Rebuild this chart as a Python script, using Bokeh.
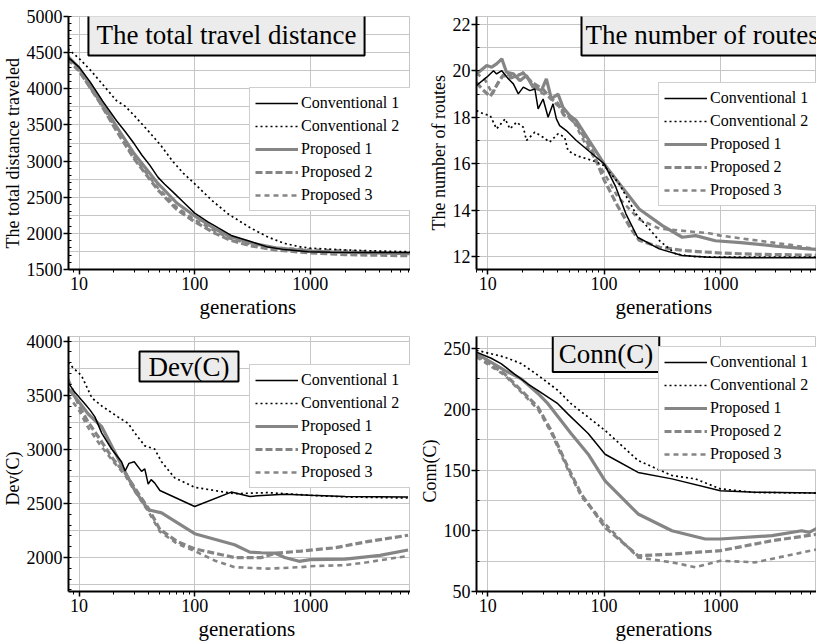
from bokeh.plotting import figure
from bokeh.models import Range1d, FixedTicker, PrintfTickFormatter, Legend, LegendItem, Label, Title
from bokeh.layouts import column, row
from bokeh.embed import file_html
from bokeh.resources import INLINE

FONT = "Liberation Serif"
GRAY = "#858585"
GRID = "#c6c6c6"

series_names = ["Conventional 1", "Conventional 2", "Proposed 1", "Proposed 2", "Proposed 3"]
x_ticks = [10, 100, 1000]

# ---------------- The total travel distance ----------------
dist_c1_x = [8, 10, 12.5, 16, 21, 25, 30, 35, 41, 48, 55, 65, 80, 100, 130, 160, 207, 300, 431, 600, 964, 1500, 3000, 7500]
dist_c1_y = [4438, 4300, 4092, 3830, 3562, 3410, 3239, 3080, 2940, 2778, 2680, 2570, 2430, 2280, 2160, 2075, 1971, 1890, 1810, 1775, 1745, 1738, 1735, 1735]
dist_c2_x = [8, 10, 12.5, 16, 21, 25, 30, 40, 51, 65, 80, 100, 140, 194, 300, 431, 600, 841, 1000, 2000, 4000, 7500]
dist_c2_y = [4553, 4420, 4260, 4060, 3838, 3760, 3630, 3410, 3216, 2990, 2830, 2686, 2460, 2270, 2080, 1948, 1860, 1810, 1795, 1770, 1755, 1745]
dist_p1_x = [8, 10, 15, 21, 30, 48, 70, 100, 150, 200, 300, 500, 1000, 2000, 7500]
dist_p1_y = [4450, 4290, 3870, 3480, 3100, 2690, 2420, 2240, 2060, 1960, 1870, 1800, 1755, 1735, 1720]
dist_p2_x = [8, 10, 15, 21, 30, 48, 70, 100, 150, 200, 300, 500, 1000, 2000, 7500]
dist_p2_y = [4420, 4250, 3820, 3420, 3030, 2600, 2330, 2160, 2000, 1910, 1830, 1770, 1730, 1705, 1690]
dist_p3_x = [8, 10, 15, 21, 30, 48, 70, 100, 150, 200, 300, 500, 1000, 2000, 4000, 7500]
dist_p3_y = [4400, 4240, 3830, 3440, 3050, 2630, 2360, 2190, 2030, 1930, 1850, 1800, 1775, 1760, 1740, 1720]
dist_ticks = [1500, 2000, 2500, 3000, 3500, 4000, 4500, 5000]

# ---------------- The number of routes ----------------
rt_c1_x = [8, 9.8, 11.2, 11.9, 13.2, 15, 16.6, 18.3, 20.2, 23, 25.4, 27.1, 29.9, 33, 36.4, 38.9, 41.5, 47.3, 57.7, 100, 126, 154, 194, 298, 470, 792, 1500, 3000, 7000]
rt_c1_y = [19.37, 19.73, 20.01, 19.87, 20.01, 19.66, 19.44, 19.01, 19.3, 19.15, 19.22, 18.36, 18.79, 18.0, 18.58, 17.93, 17.64, 17.43, 17.0, 16.0, 15.0, 13.84, 12.83, 12.33, 12.04, 11.97, 11.95, 11.95, 11.95]
rt_c2_x = [8, 9.2, 10.5, 11.9, 14.1, 15.5, 17.7, 20.2, 21.5, 25.4, 29.9, 34, 40.2, 45.8, 48.9, 57.7, 80, 100, 135, 188, 298, 412, 574, 1000, 3000, 7000]
rt_c2_y = [18.29, 18.15, 18.07, 17.5, 17.93, 17.5, 17.79, 17.57, 17.0, 17.36, 17.14, 16.93, 17.29, 17.14, 16.57, 16.35, 16.13, 15.92, 15.13, 13.84, 12.69, 12.11, 12.0, 11.97, 11.97, 11.97]
rt_p1_x = [8, 9.8, 10.8, 11.9, 13.2, 14.5, 16.6, 18.9, 21.5, 24.5, 28.9, 31.9, 35.2, 40.2, 44.3, 50.6, 57.7, 100, 200, 317, 470, 611, 904, 1500, 3000, 5000, 7000]
rt_p1_y = [19.87, 20.23, 20.16, 20.3, 20.52, 19.94, 19.87, 19.58, 19.8, 19.3, 19.15, 19.66, 18.8, 19.0, 18.43, 18.08, 17.86, 15.99, 14.05, 13.33, 12.83, 12.9, 12.68, 12.6, 12.45, 12.35, 12.3]
rt_p2_x = [8, 9, 10.5, 12, 13.5, 16, 20, 24, 30, 35, 40, 45, 50, 60, 80, 100, 130, 170, 200, 300, 500, 1000, 2000, 7000]
rt_p2_y = [19.5, 19.2, 18.9, 19.4, 19.8, 19.7, 19.9, 19.5, 19.2, 18.8, 18.6, 18.1, 18.0, 17.6, 16.5, 15.3, 14.2, 13.2, 12.7, 12.4, 12.25, 12.15, 12.1, 12.05]
rt_p3_x = [8, 9.5, 11, 12.5, 14, 17, 20, 23, 28, 33, 40, 48, 55, 70, 100, 130, 200, 300, 500, 800, 1000, 2000, 4000, 7000]
rt_p3_y = [19.9, 19.6, 19.0, 19.6, 19.9, 19.7, 19.95, 19.6, 19.1, 18.9, 18.5, 18.1, 17.8, 16.8, 15.6, 14.6, 13.6, 13.2, 13.1, 13.0, 12.9, 12.7, 12.5, 12.3]
rt_ticks = [12, 14, 16, 18, 20, 22]

# ---------------- Dev(C) ----------------
dev_c1_x = [8, 9, 11.3, 12.5, 13.7, 15.7, 19.1, 23.3, 25, 27, 30, 34.7, 37, 39.6, 42, 45, 50, 100, 207, 300, 350, 600, 1000, 2000, 7000]
dev_c1_y = [3622, 3540, 3416, 3360, 3300, 3150, 3003, 2885, 2800, 2870, 2885, 2796, 2820, 2678, 2720, 2690, 2620, 2472, 2605, 2565, 2570, 2585, 2575, 2565, 2560]
dev_c2_x = [8, 10.5, 12.9, 15.7, 21.8, 26.6, 30.4, 37.1, 45, 51.7, 67, 100, 221, 429, 1000, 2000, 7000]
dev_c2_y = [3800, 3681, 3475, 3401, 3298, 3239, 3150, 3032, 3003, 2885, 2737, 2649, 2590, 2600, 2575, 2560, 2550]
dev_p1_x = [8, 9, 12, 15.7, 21.8, 30.4, 39.6, 51.7, 100, 221, 300, 377, 500, 600, 800, 1000, 2000, 4000, 7000]
dev_p1_y = [3563, 3500, 3327, 3209, 2914, 2619, 2442, 2413, 2220, 2118, 2050, 2044, 2040, 2000, 1965, 1980, 1985, 2020, 2070]
dev_p2_x = [8, 10, 12, 15, 20, 25, 30, 40, 50, 70, 100, 221, 377, 500, 830, 1630, 3100, 7000]
dev_p2_y = [3650, 3400, 3250, 3100, 2900, 2780, 2650, 2450, 2260, 2150, 2080, 2000, 2000, 2040, 2060, 2090, 2147, 2206]
dev_p3_x = [8, 10, 12, 15, 20, 25, 30, 40, 50, 70, 100, 150, 221, 429, 830, 1000, 2000, 3100, 7000]
dev_p3_y = [3500, 3360, 3200, 3050, 2880, 2760, 2620, 2420, 2240, 2130, 2060, 1970, 1911, 1897, 1911, 1920, 1930, 1956, 2015]
dev_ticks = [2000, 2500, 3000, 3500, 4000]

# ---------------- Conn(C) ----------------
conn_c1_x = [8, 10.7, 13, 17, 22, 26.9, 32.9, 40, 49, 73, 102, 196, 383, 1000, 2000, 7000]
conn_c1_y = [247, 242, 237.6, 229, 221, 215.6, 210, 204.6, 196, 180, 163, 148, 142.7, 133, 131.7, 131]
conn_c2_x = [8, 13.9, 19.4, 27, 40, 52, 102, 196, 383, 608, 1000, 2000, 7000]
conn_c2_y = [248.6, 243, 237.6, 228, 215.6, 204.6, 182.6, 157.8, 145.5, 142.7, 134.5, 131.5, 131]
conn_p1_x = [8, 14, 19.4, 27, 32.9, 42.6, 52, 73, 102, 196, 383, 741, 1000, 2780, 5000, 5800, 7000]
conn_p1_y = [245.9, 232, 225, 213, 204.6, 190.8, 180, 163, 141, 113.8, 100, 93.2, 93.2, 96, 100, 98.7, 102.8]
conn_p2_x = [8, 14, 27, 35, 49, 63.8, 102, 196, 383, 1000, 2780, 7000]
conn_p2_y = [245, 229, 201.8, 182.6, 152, 130, 102.8, 79.4, 80.8, 83.6, 91.8, 97.3]
conn_p3_x = [8, 14, 27, 35, 49, 64, 102, 196, 383, 608, 1000, 2000, 7000]
conn_p3_y = [243, 228, 200, 181, 150, 128, 105.6, 78, 74, 70, 75.3, 74, 85]
conn_ticks = [50, 100, 150, 200, 250]

styles = {
    "Conventional 1": dict(line_color="black", line_width=1.5, line_dash="solid"),
    "Conventional 2": dict(line_color="black", line_width=1.7, line_dash="2 3"),
    "Proposed 1": dict(line_color=GRAY, line_width=3.2, line_dash="solid"),
    "Proposed 2": dict(line_color=GRAY, line_width=3.2, line_dash="7 3"),
    "Proposed 3": dict(line_color=GRAY, line_width=2.6, line_dash="5 4"),
}
draw_order = ["Proposed 1", "Proposed 2", "Proposed 3", "Conventional 1", "Conventional 2"]

x_minor = [m * 10 ** e for e in range(0, 4) for m in range(2, 10)]


def panel(series, width, height, borders, xr, yr, yticks, yminor, ygrid,
          title, title_pos, title_align, title_pad, ylabel, ylabel_offset,
          xlabel_offset, legend_pos):
    left, right, top, bottom = borders
    p = figure(width=width, height=height, x_axis_type="log",
               x_range=Range1d(*xr), y_range=Range1d(*yr),
               output_backend="svg", toolbar_location=None,
               min_border_left=left, min_border_right=right,
               min_border_top=top, min_border_bottom=bottom)
    p.background_fill_color = "white"
    p.border_fill_color = "white"
    p.outline_line_color = GRID
    p.outline_line_width = 1

    p.xaxis.ticker = FixedTicker(ticks=x_ticks, minor_ticks=x_minor)
    p.xaxis.formatter = PrintfTickFormatter(format="%d")
    p.yaxis.ticker = FixedTicker(ticks=yticks, minor_ticks=yminor)
    for ax in (p.xaxis[0], p.yaxis[0]):
        ax.axis_line_width = 2
        ax.axis_line_color = "black"
        ax.major_tick_line_width = 1.5
        ax.major_tick_line_color = "black"
        ax.minor_tick_line_color = "black"
        ax.minor_tick_line_width = 1
        ax.major_tick_out = 5
        ax.major_tick_in = 0
        ax.major_label_text_font = FONT
        ax.major_label_text_font_size = "18px"
        ax.major_label_text_color = "black"
    p.xaxis.minor_tick_out = 3
    p.xaxis.minor_tick_in = 0
    p.yaxis.minor_tick_out = 0
    p.yaxis.minor_tick_in = 3
    p.xaxis.major_label_standoff = 2
    p.yaxis.major_label_standoff = 1

    p.add_layout(Title(text="generations", align="left", offset=xlabel_offset,
                       text_font=FONT, text_font_size="21px", text_font_style="normal",
                       text_color="black", standoff=0), "below")
    p.add_layout(Title(text=ylabel, align="left", offset=ylabel_offset,
                       text_font=FONT, text_font_size="18px", text_font_style="normal",
                       text_color="black", standoff=1), "left")

    p.xgrid.ticker = FixedTicker(ticks=x_ticks)
    p.ygrid.ticker = FixedTicker(ticks=ygrid)
    p.xgrid.grid_line_color = GRID
    p.ygrid.grid_line_color = GRID
    p.xgrid.grid_line_width = 1
    p.ygrid.grid_line_width = 1

    rends = {}
    for name in draw_order:
        xs, ys = series[name]
        rends[name] = p.line(xs, ys, **styles[name])

    items = [LegendItem(label=n, renderers=[rends[n]]) for n in series_names]
    leg = Legend(items=items, location=legend_pos, margin=0, padding=5,
                 spacing=3, glyph_width=43, glyph_height=20, label_height=20,
                 label_width=115, label_standoff=3,
                 label_text_font=FONT, label_text_font_size="16px",
                 label_text_color="black",
                 border_line_color="#a0a0a0", border_line_width=1,
                 background_fill_color="white", background_fill_alpha=1.0)
    p.add_layout(leg)

    pl, pt, pr, pb = title_pad
    p.add_layout(Label(x=title_pos[0], y=title_pos[1], x_units="screen", y_units="screen",
                       text=title, text_font=FONT, text_font_size="27px",
                       text_color="black", text_align=title_align, text_baseline="middle",
                       background_fill_color="#ececec", background_fill_alpha=1.0,
                       border_line_color="black", border_line_width=2,
                       padding=dict(left=pl, right=pr, top=pt, bottom=pb)))
    return p


# layout origin is the page's top-left; rows share frame top/bottom
tl = panel({"Conventional 1": (dist_c1_x, dist_c1_y), "Conventional 2": (dist_c2_x, dist_c2_y),
            "Proposed 1": (dist_p1_x, dist_p1_y), "Proposed 2": (dist_p2_x, dist_p2_y),
            "Proposed 3": (dist_p3_x, dist_p3_y)},
           410, 320, (67, 0, 16, 51), (8.1, 7350), (1500, 5000),
           dist_ticks, list(range(1500, 5001, 100)), list(range(1500, 5001, 250)),
           "The total travel distance", (158, 235), "center", (8, 6, 8, 6),
           "The total distance traveled", 21, 131, (181, 58))

tr = panel({"Conventional 1": (rt_c1_x, rt_c1_y), "Conventional 2": (rt_c2_x, rt_c2_y),
            "Proposed 1": (rt_p1_x, rt_p1_y), "Proposed 2": (rt_p2_x, rt_p2_y),
            "Proposed 3": (rt_p3_x, rt_p3_y)},
           406, 320, (66, 0, 16, 51), (8.0, 6700), (11.44, 22.345),
           rt_ticks, list(range(12, 23)), list(range(12, 23)),
           "The number of routes", (105, 235), "left", (4, 6, 8, 6),
           "The number of routes", 39, 139, (182, 63))

bl = panel({"Conventional 1": (dev_c1_x, dev_c1_y), "Conventional 2": (dev_c2_x, dev_c2_y),
            "Proposed 1": (dev_p1_x, dev_p1_y), "Proposed 2": (dev_p2_x, dev_p2_y),
            "Proposed 3": (dev_p3_x, dev_p3_y)},
           410, 321, (67, 0, 16, 50), (8.1, 7350), (1686, 4043),
           dev_ticks, list(range(1700, 4001, 100)), list(range(1750, 4001, 250)),
           "Dev(C)", (120.5, 225), "center", (9, 0, 9, 0),
           "Dev(C)", 86, 130, (181, 103))

br = panel({"Conventional 1": (conn_c1_x, conn_c1_y), "Conventional 2": (conn_c2_x, conn_c2_y),
            "Proposed 1": (conn_p1_x, conn_p1_y), "Proposed 2": (conn_p2_x, conn_p2_y),
            "Proposed 3": (conn_p3_x, conn_p3_y)},
           406, 321, (66, 0, 16, 50), (8.0, 6700), (50, 259.9),
           conn_ticks, list(range(50, 251, 25)), list(range(50, 251, 25)),
           "Conn(C)", (129.5, 237.5), "center", (6, 3, 6, 3),
           "Conn(C)", 89, 139, (182, 121))

layout = column(row(tl, tr), row(bl, br))
open("out.html", "w").write(file_html(layout, INLINE))
